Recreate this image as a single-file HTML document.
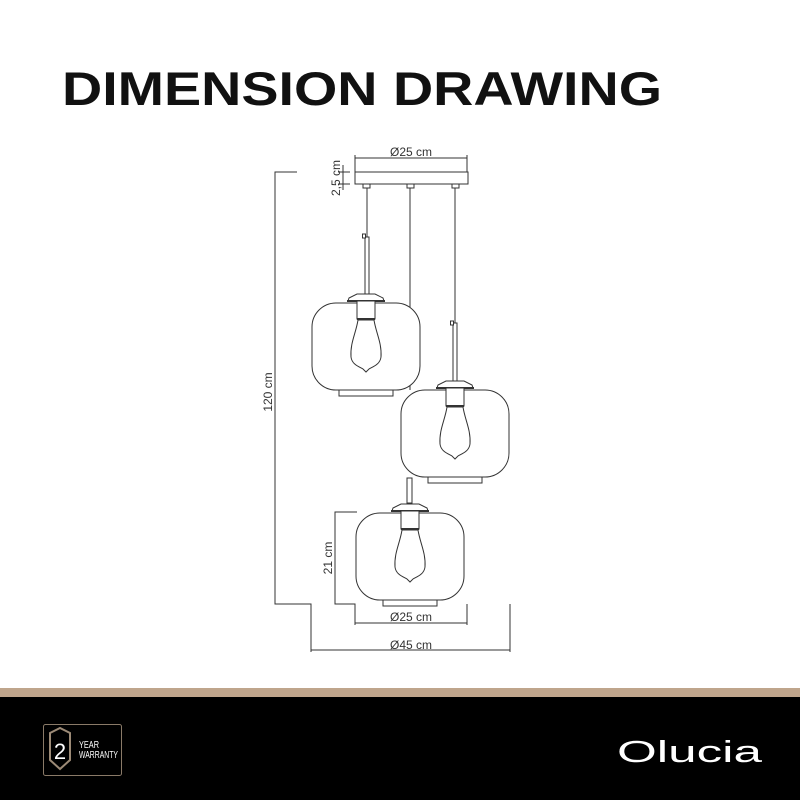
<!DOCTYPE html>
<html><head><style>
body{margin:0;width:800px;height:800px;background:#fff;overflow:hidden}
svg{display:block}
</style></head><body>
<svg width="800" height="800" viewBox="0 0 800 800" xmlns="http://www.w3.org/2000/svg">
<defs>
<g id="lamp" fill="#fff" stroke="#333" stroke-width="1">
  <rect x="-27" y="87" width="54" height="6" fill="#fff"/>
  <rect x="-54" y="0" width="108" height="87" rx="24" ry="24"/>
  <path d="M-18,-2 L-17,-5 L-9,-9 L9,-9 L17,-5 L18,-2 Z"/>
  <line x1="-19" y1="-2" x2="19" y2="-2" stroke-width="2"/>
  <rect x="-9" y="-2" width="18" height="18"/>
  <line x1="-9" y1="16" x2="9" y2="16" stroke-width="2"/>
  <path d="M-8,17 C-10,30 -16,40 -15,54 C-14,62 -6,64 -3,66 L0,69 L3,66 C6,64 14,62 15,54 C16,40 10,30 8,17 Z"/>
</g>
</defs>
<text x="62" y="105" font-family="Liberation Sans, sans-serif" font-weight="bold" font-size="47" textLength="600" lengthAdjust="spacingAndGlyphs" fill="#111">DIMENSION DRAWING</text>

<g stroke="#333" fill="none" stroke-width="1">
  <line x1="367" y1="184" x2="367" y2="296"/>
  <line x1="410" y1="184" x2="410" y2="390"/>
  <line x1="455" y1="184" x2="455" y2="385"/>
  <rect x="365" y="237" width="4" height="58" fill="#fff"/>
  <rect x="453" y="323" width="4" height="58" fill="#fff"/>
  <rect x="362.5" y="234" width="3" height="4" fill="#fff"/>
  <rect x="450.5" y="321" width="3" height="4" fill="#fff"/>
  <rect x="407" y="478" width="5" height="25" fill="#fff"/>
  <rect x="355" y="172" width="113" height="12" fill="#fff"/>
  <rect x="363" y="184" width="7" height="4" fill="#fff"/>
  <rect x="407" y="184" width="7" height="4" fill="#fff"/>
  <rect x="452" y="184" width="7" height="4" fill="#fff"/>
  <line x1="355" y1="158" x2="467" y2="158"/>
  <line x1="355" y1="155" x2="355" y2="172"/><line x1="467" y1="155" x2="467" y2="172"/>
  <line x1="343" y1="165" x2="343" y2="190"/>
  <line x1="338" y1="172" x2="350" y2="172"/><line x1="338" y1="184" x2="350" y2="184"/>
  <polyline points="297,172 275,172 275,604 311,604 311,652"/>
  <line x1="311" y1="650" x2="510" y2="650"/>
  <line x1="510" y1="604" x2="510" y2="652"/>
  <polyline points="357,512 335,512 335,604 355,604 355,625"/>
  <line x1="355" y1="623" x2="467" y2="623"/>
  <line x1="467" y1="604" x2="467" y2="625"/>
</g>
<use href="#lamp" x="366" y="303"/>
<use href="#lamp" x="455" y="390"/>
<use href="#lamp" x="410" y="513"/>

<g font-family="Liberation Sans, sans-serif" font-size="12" fill="#333">
  <text x="411" y="156" text-anchor="middle">Ø25 cm</text>
  <text x="411" y="621" text-anchor="middle">Ø25 cm</text>
  <text x="411" y="649" text-anchor="middle">Ø45 cm</text>
  <text transform="translate(340,178) rotate(-90)" text-anchor="middle">2,5 cm</text>
  <text transform="translate(272,392) rotate(-90)" text-anchor="middle">120 cm</text>
  <text transform="translate(332,558) rotate(-90)" text-anchor="middle">21 cm</text>
</g>

<rect x="0" y="688" width="800" height="10" fill="#bfa58c"/>
<rect x="0" y="697" width="800" height="103" fill="#000"/>
<rect x="43.5" y="724.5" width="78" height="51" rx="2" fill="none" stroke="#8a7a68" stroke-width="1"/>
<path d="M50,733 L60,728 L70,733 L70,760 L60,769 L50,760 Z" fill="none" stroke="#9c8a76" stroke-width="2"/>
<text x="60" y="759" text-anchor="middle" font-family="Liberation Sans, sans-serif" font-size="22" fill="#fff">2</text>
<text x="79" y="748" font-family="Liberation Sans, sans-serif" font-size="10" fill="#fff" textLength="20" lengthAdjust="spacingAndGlyphs">YEAR</text>
<text x="79" y="758" font-family="Liberation Sans, sans-serif" font-size="10" fill="#fff" textLength="39" lengthAdjust="spacingAndGlyphs">WARRANTY</text>
<text x="617" y="762" font-family="Liberation Sans, sans-serif" font-size="31" fill="#fff" textLength="145" lengthAdjust="spacingAndGlyphs">Olucia</text>
</svg>
</body></html>
